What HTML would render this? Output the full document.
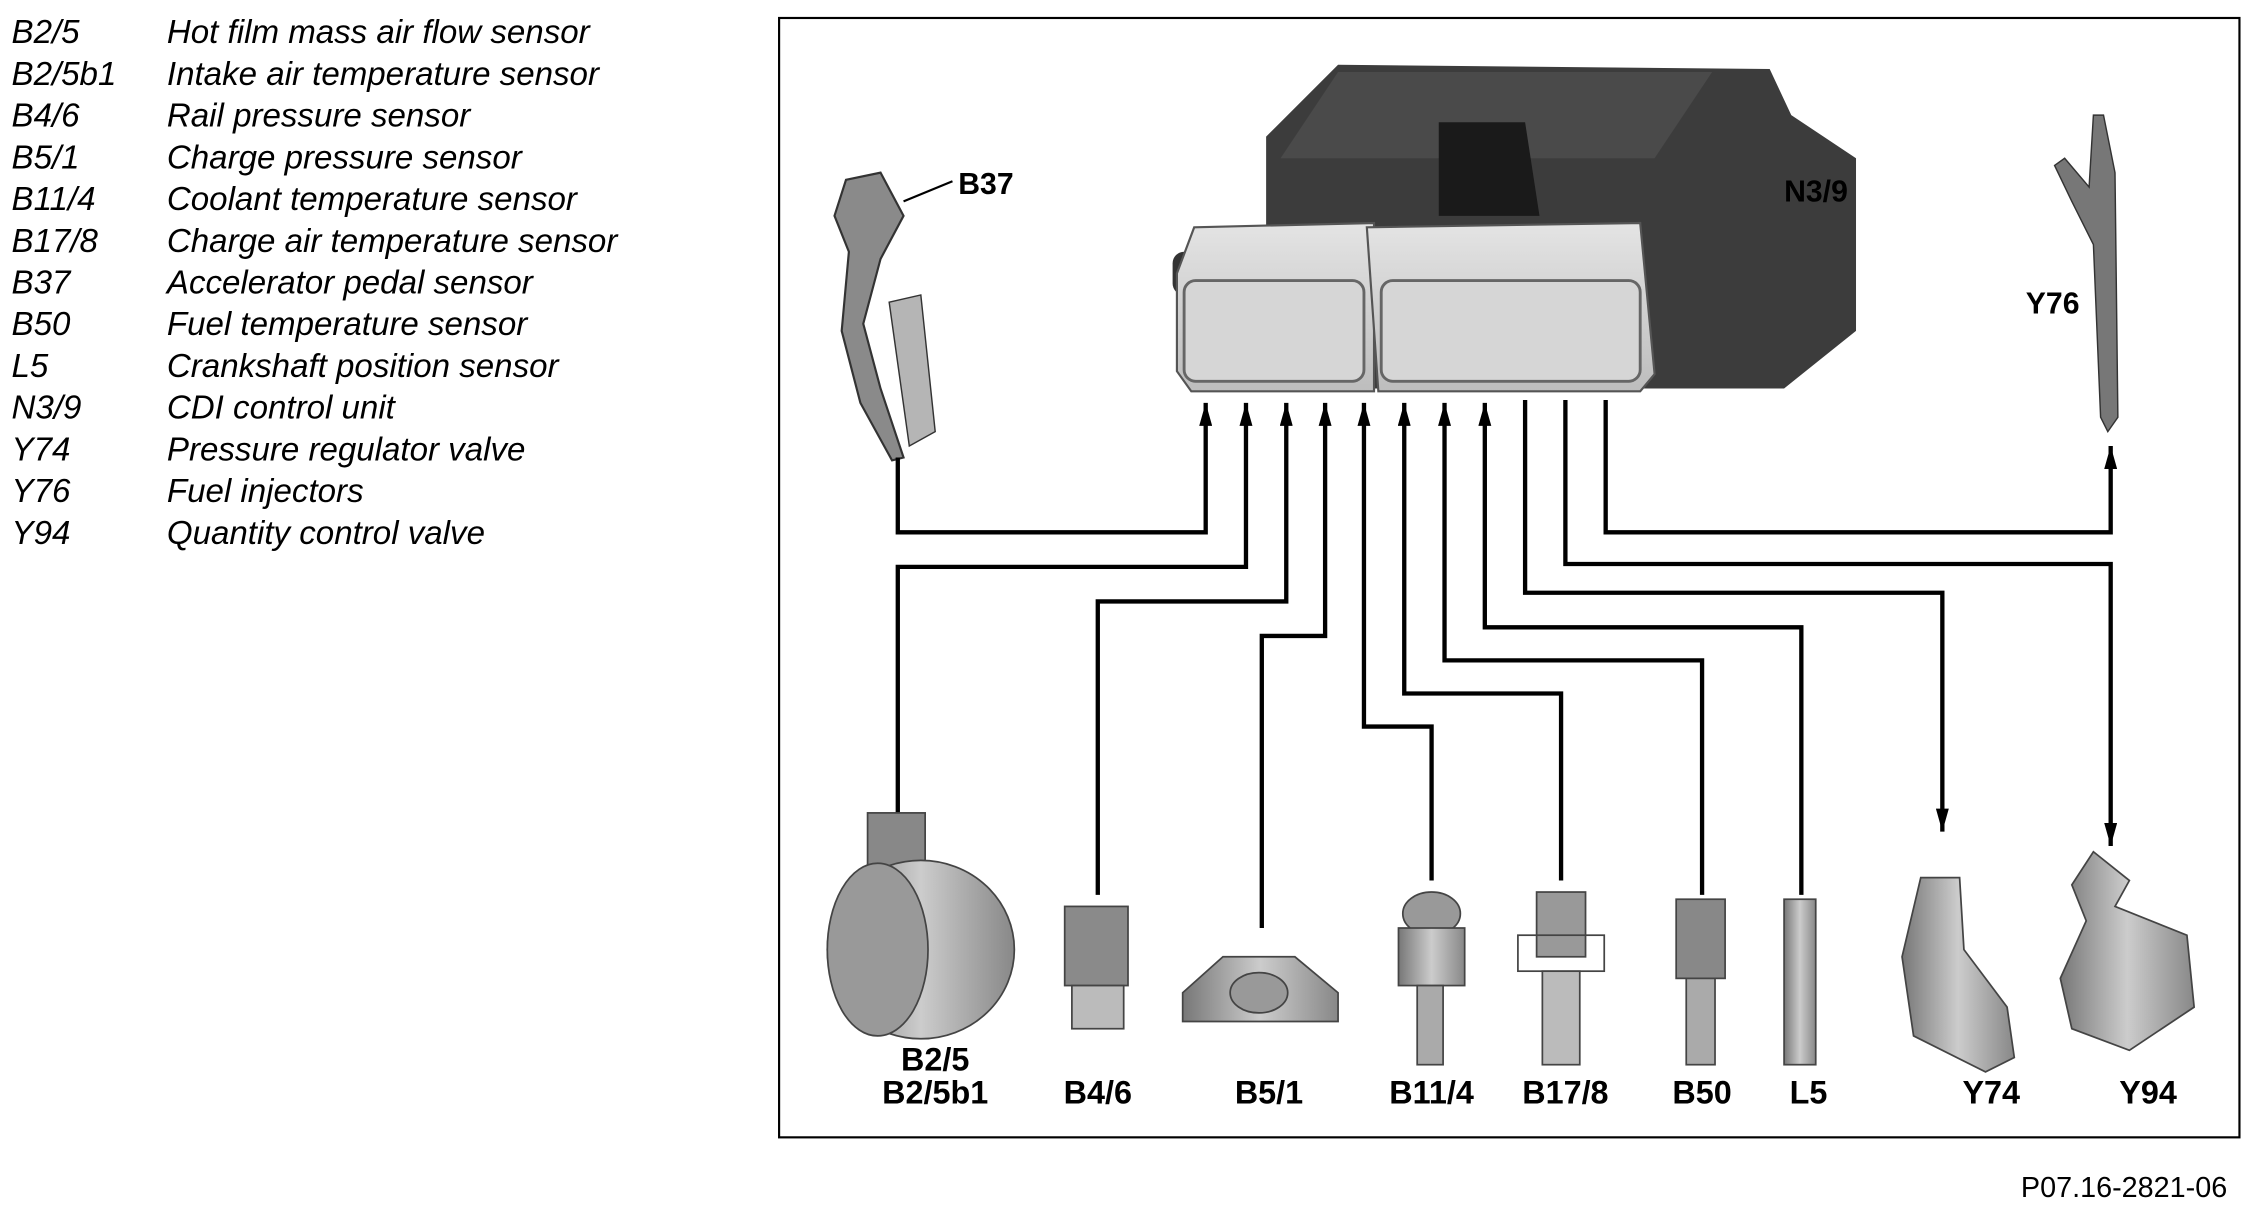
<!DOCTYPE html>
<html><head><meta charset="utf-8"><style>
html,body{margin:0;padding:0;background:#fff;}
svg{display:block;}
</style></head><body>
<svg width="2256" height="1209" viewBox="0 0 1568 840.3" xmlns="http://www.w3.org/2000/svg">
<defs>
<linearGradient id="g1" x1="0" x2="1"><stop offset="0" stop-color="#777"/><stop offset="0.5" stop-color="#ccc"/><stop offset="1" stop-color="#888"/></linearGradient>
<linearGradient id="g2" x1="0" x2="0" y1="0" y2="1"><stop offset="0" stop-color="#e4e4e4"/><stop offset="1" stop-color="#bdbdbd"/></linearGradient>
<marker id="ar" markerWidth="16" markerHeight="9" refX="16" refY="4.5" orient="auto" markerUnits="userSpaceOnUse" viewBox="0 0 16 9"><path d="M0,0 L16,4.5 L0,9 Z" fill="#000"/></marker>
</defs>
<g font-family="Liberation Sans, sans-serif" font-style="italic" font-size="23" fill="#000">
<text x="8" y="30">B2/5</text><text x="116" y="30">Hot film mass air flow sensor</text>
<text x="8" y="59">B2/5b1</text><text x="116" y="59">Intake air temperature sensor</text>
<text x="8" y="88">B4/6</text><text x="116" y="88">Rail pressure sensor</text>
<text x="8" y="117">B5/1</text><text x="116" y="117">Charge pressure sensor</text>
<text x="8" y="146">B11/4</text><text x="116" y="146">Coolant temperature sensor</text>
<text x="8" y="175">B17/8</text><text x="116" y="175">Charge air temperature sensor</text>
<text x="8" y="204">B37</text><text x="116" y="204">Accelerator pedal sensor</text>
<text x="8" y="233">B50</text><text x="116" y="233">Fuel temperature sensor</text>
<text x="8" y="262">L5</text><text x="116" y="262">Crankshaft position sensor</text>
<text x="8" y="291">N3/9</text><text x="116" y="291">CDI control unit</text>
<text x="8" y="320">Y74</text><text x="116" y="320">Pressure regulator valve</text>
<text x="8" y="349">Y76</text><text x="116" y="349">Fuel injectors</text>
<text x="8" y="378">Y94</text><text x="116" y="378">Quantity control valve</text>
</g>
<rect x="541.5" y="12.5" width="1015" height="778" fill="none" stroke="#000" stroke-width="1.5"/>
<text x="1548" y="832" font-family="Liberation Sans, sans-serif" font-size="20" text-anchor="end">P07.16-2821-06</text>

<!-- ECU -->
<path d="M880,95 L930,45 L1230,48 L1245,80 L1290,110 L1290,230 L1240,270 L880,270 Z" fill="#3c3c3c"/>
<path d="M930,50 L1190,50 L1150,110 L890,110 Z" fill="#4a4a4a"/>
<path d="M1000,85 L1060,85 L1070,150 L1000,150 Z" fill="#1a1a1a"/>
<rect x="815" y="175" width="30" height="30" rx="8" fill="#333"/>
<path d="M830,158 L955,155 L955,272 L828,272 L818,258 L818,190 Z" fill="url(#g2)" stroke="#555" stroke-width="1.5"/>
<path d="M950,158 L1140,155 L1150,260 L1140,272 L958,272 Z" fill="url(#g2)" stroke="#555" stroke-width="1.5"/>
<rect x="823" y="195" width="125" height="70" rx="8" fill="#d6d6d6" stroke="#666" stroke-width="2"/>
<rect x="960" y="195" width="180" height="70" rx="8" fill="#d6d6d6" stroke="#666" stroke-width="2"/>
<text x="1240" y="140" font-family="Liberation Sans, sans-serif" font-weight="bold" font-size="21">N3/9</text>

<!-- Pedal B37 -->
<path d="M588,125 L612,120 L628,150 L612,180 L600,225 L612,270 L628,318 L620,320 L598,280 L585,230 L590,175 L580,150 Z" fill="#8a8a8a" stroke="#333" stroke-width="1.5"/>
<path d="M618,210 L640,205 L650,300 L632,310 Z" fill="#b5b5b5" stroke="#333" stroke-width="1"/>
<line x1="628" y1="140" x2="662" y2="126" stroke="#000" stroke-width="1.5"/>
<text x="666" y="135" font-family="Liberation Sans, sans-serif" font-weight="bold" font-size="21">B37</text>

<!-- Injector Y76 -->
<path d="M1455,80 L1462,80 L1470,120 L1472,290 L1465,300 L1460,290 L1455,170 L1440,140 L1428,115 L1435,110 L1452,130 Z" fill="#777" stroke="#333" stroke-width="1"/>
<text x="1408" y="218" font-family="Liberation Sans, sans-serif" font-weight="bold" font-size="21">Y76</text>

<!-- Wires -->
<g fill="none" stroke="#000" stroke-width="3">
<path d="M624,318 V370 H838 V280" marker-end="url(#ar)"/>
<path d="M624,565 V394 H866 V280" marker-end="url(#ar)"/>
<path d="M763,622 V418 H894 V280" marker-end="url(#ar)"/>
<path d="M877,645 V442 H921 V280" marker-end="url(#ar)"/>
<path d="M995,612 V505 H948 V280" marker-end="url(#ar)"/>
<path d="M1085,612 V482 H976 V280" marker-end="url(#ar)"/>
<path d="M1183,622 V459 H1004 V280" marker-end="url(#ar)"/>
<path d="M1252,622 V436 H1032 V280" marker-end="url(#ar)"/>
<path d="M1060,278 V412 H1350 V578" marker-end="url(#ar)"/>
<path d="M1088,278 V392 H1467 V588" marker-end="url(#ar)"/>
<path d="M1116,278 V370 H1467 V310" marker-end="url(#ar)"/>
</g>

<!-- Sensors -->
<g stroke="#444" stroke-width="1.2">
<rect x="603" y="565" width="40" height="50" fill="#888"/>
<ellipse cx="640" cy="660" rx="65" ry="62" fill="url(#g1)"/>
<ellipse cx="610" cy="660" rx="35" ry="60" fill="#999"/>
<rect x="740" y="630" width="44" height="55" fill="#8a8a8a"/>
<rect x="745" y="685" width="36" height="30" fill="#bbb"/>
<path d="M822,690 L850,665 L900,665 L930,690 L930,710 L822,710 Z" fill="url(#g1)"/>
<ellipse cx="875" cy="690" rx="20" ry="14" fill="#999"/>
<ellipse cx="995" cy="635" rx="20" ry="15" fill="#999"/>
<rect x="972" y="645" width="46" height="40" fill="url(#g1)"/>
<rect x="985" y="685" width="18" height="55" fill="#aaa"/>
<rect x="1068" y="620" width="34" height="45" fill="#999"/>
<rect x="1055" y="650" width="60" height="25" fill="none"/>
<rect x="1072" y="675" width="26" height="65" fill="#bbb"/>
<rect x="1165" y="625" width="34" height="55" fill="#888"/>
<rect x="1172" y="680" width="20" height="60" fill="#aaa"/>
<rect x="1240" y="625" width="22" height="115" fill="url(#g1)"/>
<path d="M1335,610 L1362,610 L1365,660 L1395,700 L1400,735 L1380,745 L1330,720 L1322,665 Z" fill="url(#g1)"/>
<path d="M1455,592 L1480,612 L1470,630 L1520,650 L1525,700 L1480,730 L1440,715 L1432,680 L1450,640 L1440,615 Z" fill="url(#g1)"/>
</g>
<g font-family="Liberation Sans, sans-serif" font-weight="bold" font-size="22.5" text-anchor="middle">
<text x="650" y="744">B2/5</text><text x="650" y="767">B2/5b1</text>
<text x="763" y="767">B4/6</text><text x="882" y="767">B5/1</text>
<text x="995" y="767">B11/4</text><text x="1088" y="767">B17/8</text>
<text x="1183" y="767">B50</text><text x="1257" y="767">L5</text>
<text x="1384" y="767">Y74</text><text x="1493" y="767">Y94</text>
</g>
</svg>
</body></html>
